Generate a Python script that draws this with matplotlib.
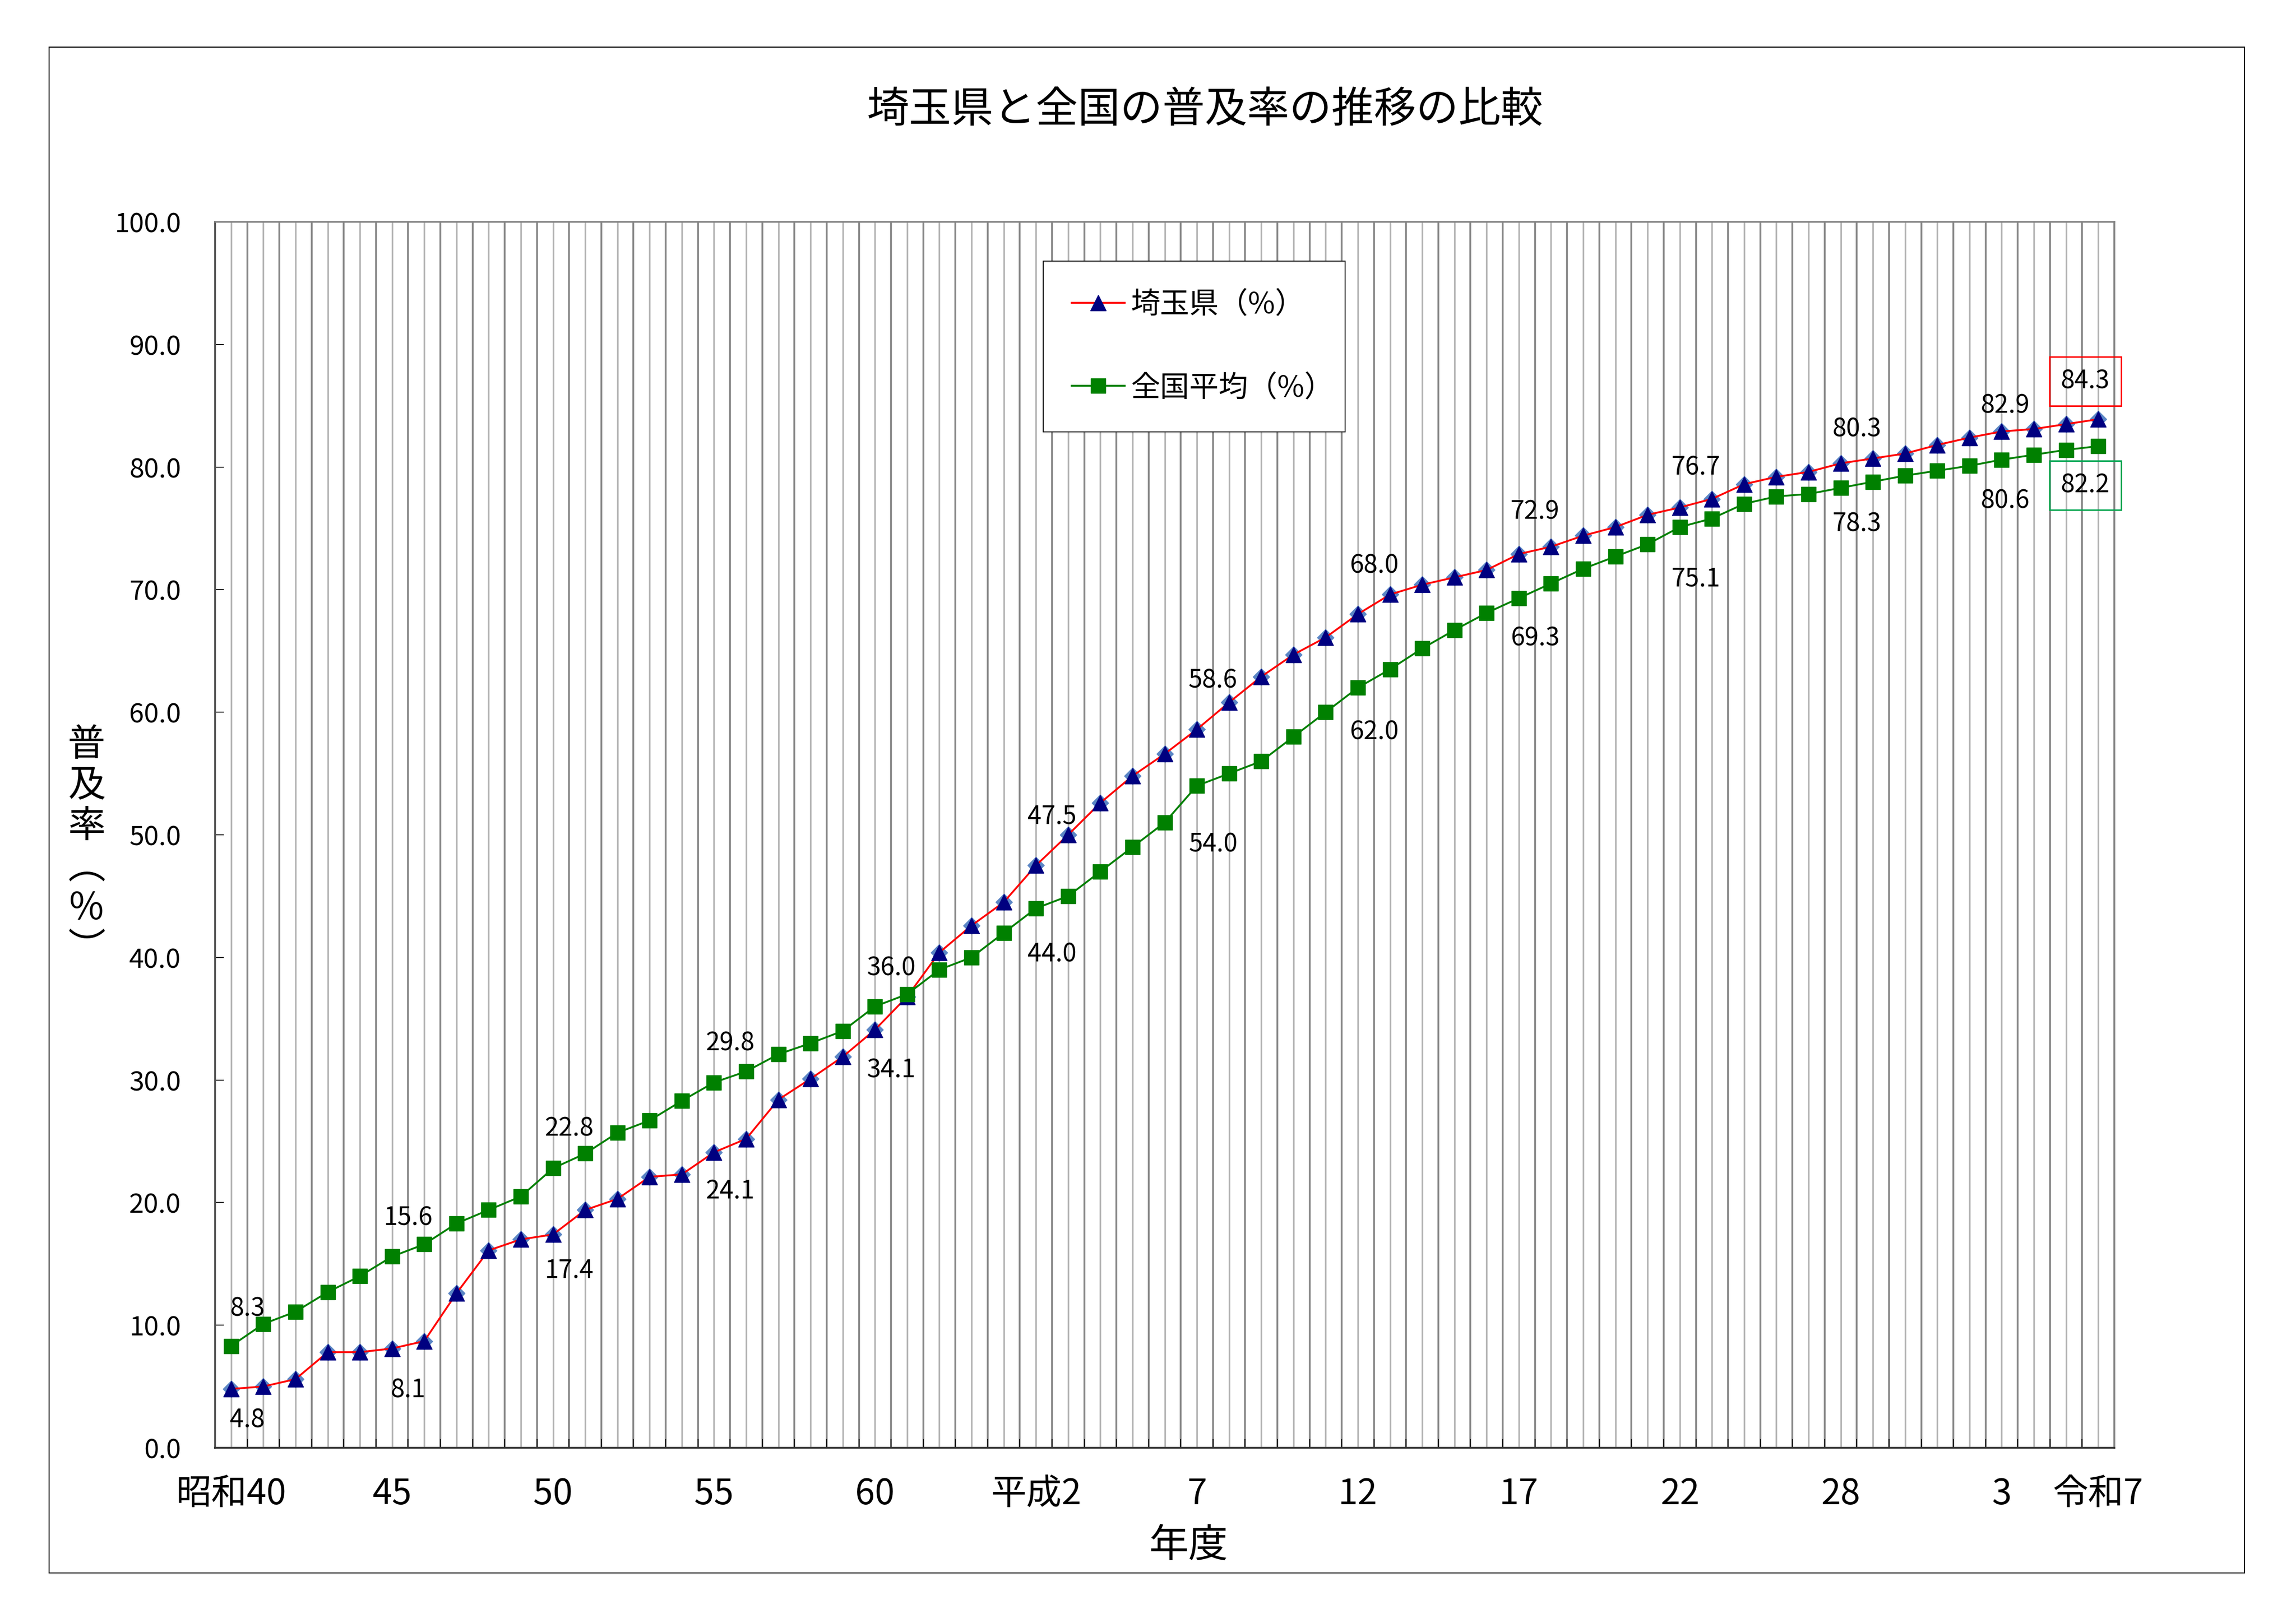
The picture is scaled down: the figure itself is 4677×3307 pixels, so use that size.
import numpy as np
import matplotlib
matplotlib.use("Agg")
import matplotlib.pyplot as plt
from matplotlib.patches import Rectangle

plt.rcParams['font.family'] = ['Noto Sans CJK JP', 'DejaVu Sans']

# 普及率 (%)  昭和40年度 ～ (平成24年度なし)
saitama = [4.8, 5.0, 5.6, 7.8, 7.8, 8.1, 8.7, 12.6, 16.1, 17.0,
           17.4, 19.4, 20.3, 22.1, 22.3, 24.1, 25.2, 28.4, 30.1, 31.9,
           34.1, 36.8, 40.4, 42.6, 44.5, 47.5, 50.0, 52.6, 54.8, 56.6,
           58.6, 60.8, 62.9, 64.7, 66.1, 68.0, 69.6, 70.4, 71.0, 71.6,
           72.9, 73.5, 74.4, 75.1, 76.1, 76.7, 77.4, 78.6, 79.2, 79.6,
           80.3, 80.7, 81.1, 81.8, 82.4, 82.9, 83.1, 83.5, 83.9]
zenkoku = [8.3, 10.1, 11.1, 12.7, 14.0, 15.6, 16.6, 18.3, 19.4, 20.5,
           22.8, 24.0, 25.7, 26.7, 28.3, 29.8, 30.7, 32.1, 33.0, 34.0,
           36.0, 37.0, 39.0, 40.0, 42.0, 44.0, 45.0, 47.0, 49.0, 51.0,
           54.0, 55.0, 56.0, 58.0, 60.0, 62.0, 63.5, 65.2, 66.7, 68.1,
           69.3, 70.5, 71.7, 72.7, 73.7, 75.1, 75.8, 77.0, 77.6, 77.8,
           78.3, 78.8, 79.3, 79.7, 80.1, 80.6, 81.0, 81.4, 81.7]

tick_pos = [0, 5, 10, 15, 20, 25, 30, 35, 40, 45, 50, 55, 58]
tick_text = ['昭和40', '45', '50', '55', '60', '平成2', '7', '12', '17',
             '22', '28', '3', '令和7']

label_idx = [0, 5, 10, 15, 20, 25, 30, 35, 40, 45, 50, 55]
# offset of the data labels in pixels (+ = below)
sai_dy = [64, 85, 73, 80, 83, -100, -99, -99, -86, -81, -69, -52]
zen_dy = [-76, -79, -81, -80, -78, 94, 120, 91, 82, 106, 74, 84]

box_values = [84.3, 82.2]

W, H = 4677, 3307
fig = plt.figure(figsize=(W / 100, H / 100), dpi=100)
fig.patch.set_facecolor('white')

L, R, T, B = 438, 4307, 452, 2950
ax = fig.add_axes([L / W, 1 - B / H, (R - L) / W, (B - T) / H])

n = len(saitama)
x = np.arange(n)

# 系列
ax.plot(x, saitama, ls='none', marker='D', ms=17, color='#5b86c5',
        zorder=3)
ax.plot(x, saitama, color='#ff0000', lw=2.7, marker='^', ms=23,
        mfc='#000080', mec='#000080', label='埼玉県（%）', zorder=4)
ax.plot(x, zenkoku, color='#008000', lw=2.7, marker='s', ms=21,
        mfc='#008000', mec='#008000', label='全国平均（%）', zorder=4)

ax.set_xlim(-0.5, n - 0.5)
ax.set_ylim(0, 100)

# 目盛りと格子
ax.set_xticks(x)
labels = [''] * n
for p, t in zip(tick_pos, tick_text):
    labels[p] = t
ax.set_xticklabels(labels, fontsize=52)
ax.set_xticks(np.arange(n + 1) - 0.5, minor=True)
ax.tick_params(axis='x', which='major', length=0, pad=42)
ax.tick_params(axis='x', which='minor', direction='in', length=13,
               width=1.3, color='black')
ax.grid(True, which='major', axis='x', color='#b4b4b4', lw=2.4)
ax.grid(True, which='minor', axis='x', color='#858585', lw=2.6)
ax.set_axisbelow(True)

ax.set_yticks(np.arange(0, 101, 10))
ax.set_yticklabels(['%.1f' % v for v in np.arange(0, 101, 10)], fontsize=39)
ax.tick_params(axis='y', direction='in', length=13, width=1.3, pad=50)

for s in ['top', 'right']:
    ax.spines[s].set_color('#858585')
    ax.spines[s].set_linewidth(2.6)
ax.spines['left'].set_color('#555555')
ax.spines['left'].set_linewidth(2.6)
ax.spines['bottom'].set_color('#333333')
ax.spines['bottom'].set_linewidth(2.6)

# データラベル
for k, i in enumerate(label_idx):
    dx = 7 if i == 55 else 33
    ax.annotate('%.1f' % saitama[i], (i, saitama[i]),
                xytext=(dx * 0.72, -sai_dy[k] * 0.72), textcoords='offset points',
                ha='center', va='center', fontsize=37, zorder=6)
    ax.annotate('%.1f' % zenkoku[i], (i, zenkoku[i]),
                xytext=(dx * 0.72, -zen_dy[k] * 0.72), textcoords='offset points',
                ha='center', va='center', fontsize=37, zorder=6)

ax.text(57.6, 87.0, '%.1f' % box_values[0], fontsize=37, ha='center',
        va='center', zorder=6,
        bbox=dict(boxstyle='square,pad=0.45', fc='none', ec='#ff0000', lw=2.2))
ax.text(57.6, 78.5, '%.1f' % box_values[1], fontsize=37, ha='center',
        va='center', zorder=6,
        bbox=dict(boxstyle='square,pad=0.45', fc='none', ec='#00a651', lw=2.2))

leg = ax.legend(loc='upper left', bbox_to_anchor=(0.436, 0.831, 0.159, 0.137),
                mode='expand', fontsize=43, frameon=True, fancybox=False,
                edgecolor='black', framealpha=1, handlelength=1.8,
                handletextpad=0.22, labelspacing=1.82, borderpad=0.98,
                borderaxespad=0)
leg.get_frame().set_linewidth(1.4)

# タイトル・軸ラベル
fig.text(2454 / W, 1 - 225 / H, '埼玉県と全国の普及率の推移の比較',
         fontsize=62, ha='center', va='center')
fig.text(2421 / W, 1 - 3150 / H, '年度', fontsize=58, ha='center',
         va='center')
fig.text(176 / W, 1 - 1726 / H, '普\n及\n率\n︵\n%\n︶', fontsize=55,
         ha='center', va='center', linespacing=1.06)

fig.patches.append(Rectangle((100 / W, 1 - 3205 / H), (4572 - 100) / W,
                             (3205 - 96) / H, transform=fig.transFigure,
                             fill=False, ec='black', lw=1.5))

fig.savefig('out.png', dpi=100)
